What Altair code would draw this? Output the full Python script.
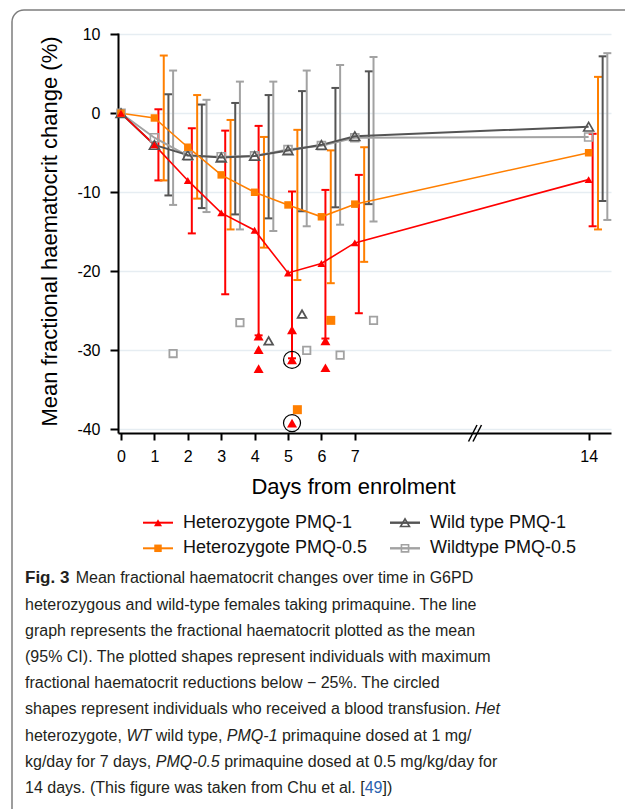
import altair as alt
import pandas as pd

# ---------------- data ----------------
series = ["Heterozygote PMQ-1", "Heterozygote PMQ-0.5", "Wild type PMQ-1", "Wildtype PMQ-0.5"]
colors = ["#ff0000", "#ff7f00", "#545454", "#a2a2a2"]
shapes = ["triangle-up", "square", "triangle-up", "square"]
filled = [True, True, False, False]

days = [0, 1, 2, 3, 4, 5, 6, 7, 14]
ci_days = [1, 2, 3, 4, 5, 6, 7, 14]
x_ticks = [0, 1, 2, 3, 4, 5, 6, 7, 14]
y_ticks = [10, 0, -10, -20, -30, -40]

het1_mean = [0, -4.0, -8.5, -12.6, -14.8, -20.2, -19.0, -16.4, -8.4]
het1_lo = [-8.5, -15.2, -22.9, -28.1, -31.0, -28.5, -25.3, -14.3]
het1_hi = [0.5, -1.9, -2.2, -1.6, -9.9, -9.7, -7.8, -2.6]

het05_mean = [0, -0.6, -4.3, -7.8, -10.0, -11.6, -13.1, -11.5, -5.0]
het05_lo = [-8.5, -10.8, -14.7, -17.0, -21.1, -21.5, -18.8, -14.7]
het05_hi = [7.3, 2.3, -0.85, -3.0, -2.1, -4.7, -4.3, 4.6]

wt1_mean = [0, -4.0, -5.3, -5.6, -5.4, -4.7, -4.0, -2.9, -1.7]
wt1_lo = [-10.4, -12.0, -12.8, -13.3, -12.4, -11.9, -11.5, -11.1]
wt1_hi = [2.4, 1.1, 1.3, 2.3, 2.8, 3.2, 5.3, 7.2]

wt05_mean = [0, -3.1, -5.4, -5.5, -5.4, -4.6, -4.1, -3.1, -3.0]
wt05_lo = [-11.6, -12.5, -14.7, -14.9, -14.3, -14.1, -13.7, -13.5]
wt05_hi = [5.4, 1.7, 4.0, 4.0, 5.4, 6.1, 7.1, 7.6]

# individuals with max reduction below -25%
het1_out_day = [4, 4, 4, 5, 5, 5, 6, 6]
het1_out_val = [-28.2, -29.9, -32.3, -27.4, -31.2, -39.2, -28.8, -32.2]
het05_out_day = [5, 6]
het05_out_val = [-37.5, -26.2]
wt1_out_day = [4, 5]
wt1_out_val = [-28.8, -25.4]
wt05_out_day = [1, 3, 5, 6, 7]
wt05_out_val = [-30.4, -26.5, -30.0, -30.6, -26.2]
# transfused individuals (circled), Het PMQ-1
transf_day = [5, 5]
transf_val = [-31.2, -39.2]

# side-by-side shift of each group's CI bars / individual points (days)
ci_shift = [0.12, 0.28, 0.42, 0.56]

means = [het1_mean, het05_mean, wt1_mean, wt05_mean]
los = [het1_lo, het05_lo, wt1_lo, wt05_lo]
his = [het1_hi, het05_hi, wt1_hi, wt05_hi]
out_days = [het1_out_day, het05_out_day, wt1_out_day, wt05_out_day]
out_vals = [het1_out_val, het05_out_val, wt1_out_val, wt05_out_val]

# styling per series
line_w = [1.6, 1.6, 2.0, 2.0]
mean_size = [64, 56, 100, 64]
out_size = [100, 81, 75, 55]

# caption: lines of (text, style) segments
caption_lines = [
    [("Fig. 3", "bold"), ("Mean fractional haematocrit changes over time in G6PD", "normal")],
    [("heterozygous and wild-type females taking primaquine. The line", "normal")],
    [("graph represents the fractional haematocrit plotted as the mean", "normal")],
    [("(95% CI). The plotted shapes represent individuals with maximum", "normal")],
    [("fractional haematocrit reductions below \u2212 25%. The circled", "normal")],
    [("shapes represent individuals who received a blood transfusion. ", "normal"), ("Het", "italic")],
    [("heterozygote, ", "normal"), ("WT", "italic"), (" wild type, ", "normal"), ("PMQ-1", "italic"),
     (" primaquine dosed at 1 mg/", "normal")],
    [("kg/day for 7 days, ", "normal"), ("PMQ-0.5", "italic"),
     (" primaquine dosed at 0.5 mg/kg/day for", "normal")],
    [("14 days. (This figure was taken from Chu et al. [", "normal"), ("49", "link"), ("])", "normal")],
]

# ---------------- scales / axes ----------------
FONT = "Liberation Sans"
xscale = alt.Scale(domain=[-0.09, 14.67], nice=False, zero=False)
yscale = alt.Scale(domain=[-40.45, 10.15], nice=False, zero=False)

xaxis = alt.Axis(values=x_ticks, title="Days from enrolment", grid=False,
                 domainColor="black", domainWidth=2, tickColor="black", tickWidth=2,
                 tickSize=7, labelFont=FONT, labelFontSize=16, labelColor="black",
                 labelPadding=8, labelFlush=False, labelOverlap=False,
                 titleFont=FONT, titleFontSize=22, titleFontWeight="normal",
                 titleColor="black", titleX=235, titleY=60, titleBaseline="alphabetic",
                 titleAlign="center")
yaxis = alt.Axis(values=y_ticks, title="Mean fractional haematocrit change (%)", grid=True,
                 gridColor="#e6edf2", gridWidth=1.5,
                 domainColor="black", domainWidth=2, tickColor="black", tickWidth=2,
                 tickSize=8, labelFont=FONT, labelFontSize=16, labelColor="black",
                 labelPadding=10, labelFlush=False, labelOverlap=False,
                 labelExpr="datum.value + ''",
                 titleFont=FONT, titleFontSize=22, titleFontWeight="normal",
                 titleColor="black", titleX=-62, titleY=198, titleAngle=270,
                 titleBaseline="alphabetic", titleAlign="center")


def X(field):
    return alt.X(field, type="quantitative", scale=xscale, axis=xaxis)


def Y(field):
    return alt.Y(field, type="quantitative", scale=yscale, axis=yaxis)


layers = []

# error bars
for i, s in enumerate(series):
    df = pd.DataFrame({"day": ci_days, "lo": los[i], "hi": his[i]})
    df["xp"] = df["day"] + ci_shift[i]
    base = alt.Chart(df)
    layers.append(base.mark_rule(color=colors[i], strokeWidth=2).encode(
        x=X("xp"), y=Y("lo"), y2="hi"))
    layers.append(base.mark_tick(color=colors[i], orient="horizontal", size=8,
                                 thickness=2, opacity=1).encode(x=X("xp"), y=Y("lo")))
    layers.append(base.mark_tick(color=colors[i], orient="horizontal", size=8,
                                 thickness=2, opacity=1).encode(x=X("xp"), y=Y("hi")))

# mean lines + markers
for i in [3, 2, 1, 0]:
    df = pd.DataFrame({"day": days, "mean": means[i]})
    layers.append(alt.Chart(df).mark_line(color=colors[i], strokeWidth=line_w[i]).encode(
        x=X("day"), y=Y("mean"), order="day"))
for i in [3, 2, 1, 0]:
    df = pd.DataFrame({"day": days, "mean": means[i]})
    base = alt.Chart(df)
    if filled[i]:
        mk = base.mark_point(shape=shapes[i], filled=True, size=mean_size[i],
                             color=colors[i], opacity=1)
    else:
        mk = base.mark_point(shape=shapes[i], filled=False, size=mean_size[i],
                             color=colors[i], strokeWidth=1.6, opacity=1)
    layers.append(mk.encode(x=X("day"), y=Y("mean")))

# individual outliers
for i in [3, 2, 1, 0]:
    df = pd.DataFrame({"day": out_days[i], "val": out_vals[i]})
    df["xp"] = df["day"] + ci_shift[i]
    base = alt.Chart(df)
    if filled[i]:
        mk = base.mark_point(shape=shapes[i], filled=True, size=out_size[i],
                             color=colors[i], opacity=1)
    else:
        mk = base.mark_point(shape=shapes[i], filled=False, size=out_size[i],
                             color=colors[i], strokeWidth=1.8, opacity=1)
    layers.append(mk.encode(x=X("xp"), y=Y("val")))

# circles for transfused individuals
tdf = pd.DataFrame({"day": transf_day, "val": transf_val})
tdf["xp"] = tdf["day"] + ci_shift[0]
layers.append(alt.Chart(tdf).mark_point(shape="circle", filled=False, size=290,
                                        color="black", strokeWidth=1.2, opacity=1)
              .encode(x=X("xp"), y=Y("val")))

# ---------------- axis break mark ----------------
brk = pd.DataFrame({"x1": [350.5, 355], "x2": [359, 363.5], "y1": [408.5, 408.5], "y2": [392, 392]})
layers.append(alt.Chart(brk).mark_rule(color="black", strokeWidth=1.5).encode(
    x=alt.X("x1:Q", scale=None, axis=None), x2="x2:Q",
    y=alt.Y("y1:Q", scale=None, axis=None), y2="y2:Q"))

# ---------------- legend (manual) ----------------
leg_x = [25, 25, 272, 272]
leg_y = [489.7, 515.3, 489.7, 515.3]
for i, s in enumerate(series):
    ldf = pd.DataFrame({"x1": [leg_x[i]], "x2": [leg_x[i] + 30], "xm": [leg_x[i] + 15],
                        "xt": [leg_x[i] + 40], "y": [leg_y[i]], "label": [s]})
    b = alt.Chart(ldf)
    layers.append(b.mark_rule(color=colors[i], strokeWidth=line_w[i] + 0.4).encode(
        x=alt.X("x1:Q", scale=None, axis=None), x2="x2:Q",
        y=alt.Y("y:Q", scale=None, axis=None)))
    if filled[i]:
        mk = b.mark_point(shape=shapes[i], filled=True, size=mean_size[i], color=colors[i], opacity=1)
    else:
        mk = b.mark_point(shape=shapes[i], filled=False, size=mean_size[i] * 0.8,
                          color=colors[i], strokeWidth=1.6, opacity=1)
    layers.append(mk.encode(x=alt.X("xm:Q", scale=None, axis=None),
                            y=alt.Y("y:Q", scale=None, axis=None)))
    layers.append(b.mark_text(align="left", baseline="middle", font=FONT, fontSize=18,
                              color="#111111").encode(
        x=alt.X("xt:Q", scale=None, axis=None), y=alt.Y("y:Q", scale=None, axis=None),
        text="label:N"))

# ---------------- caption (Liberation Sans = Arial metrics) ----------------
CAP_SIZE = 16
ARIAL_W = {" ": 278, ",": 278, ".": 278, "-": 333, "/": 278, "(": 333, ")": 333, "%": 889,
           "[": 278, "]": 278, "\u2212": 584,
           "a": 556, "b": 556, "c": 500, "d": 556, "e": 556, "f": 278, "g": 556, "h": 556,
           "i": 222, "j": 222, "k": 500, "l": 222, "m": 833, "n": 556, "o": 556, "p": 556,
           "q": 556, "r": 333, "s": 500, "t": 278, "u": 556, "v": 500, "w": 722, "x": 500,
           "y": 500, "z": 500, "C": 722, "D": 722, "F": 611, "G": 778, "H": 722, "I": 278,
           "M": 833, "P": 667, "Q": 778, "T": 611, "W": 944}


def text_w(t):
    return sum(ARIAL_W.get(c, 556) for c in t) * CAP_SIZE / 1000.0


cap_left = 25 - 118
cap_y0 = 550.3
cap_dy = 26.2
first_gap_x = 75.7 - 118  # position of text following the bold figure label
rows = {"normal": [], "bold": [], "italic": [], "link": []}
for li, segs in enumerate(caption_lines):
    x = cap_left
    for si, (t, st) in enumerate(segs):
        if li == 0 and si == 1:
            x = first_gap_x
        lead = len(t) - len(t.lstrip(" "))
        rows[st].append((x + text_w(t[:lead]), cap_y0 + cap_dy * li, t.strip(" ")))
        x += text_w(t)


def cap_layer(items, size=CAP_SIZE, **kw):
    df = pd.DataFrame({"x": [p[0] for p in items], "y": [p[1] for p in items],
                       "t": [p[2] for p in items]})
    return alt.Chart(df).mark_text(align="left", baseline="alphabetic", font=FONT,
                                   fontSize=size, **kw).encode(
        x=alt.X("x:Q", scale=None, axis=None), y=alt.Y("y:Q", scale=None, axis=None),
        text="t:N")


layers.append(cap_layer(rows["normal"], color="#231f20"))
layers.append(cap_layer(rows["italic"], color="#231f20", fontStyle="italic"))
layers.append(cap_layer(rows["bold"], size=17, color="#231f20", fontWeight="bold"))
layers.append(cap_layer(rows["link"], color="#2a63b0"))

# ---------------- frame ----------------
layers.append(alt.Chart(pd.DataFrame({"a": [0]})).mark_rect(
    fillOpacity=0, stroke="#7d7d7d", strokeWidth=1.5, cornerRadius=12).encode(
    x=alt.value(-106), y=alt.value(-23), x2=alt.value(540), y2=alt.value(800)))

chart = alt.layer(*layers).properties(
    width=493, height=400,
    padding={"left": 118, "top": 33, "right": 14, "bottom": 376},
    autosize=alt.AutoSizeParams(type="none"),
    background="white",
).configure_view(stroke=None)

chart.save("out.html", embed_options={"renderer": "svg", "actions": False})
